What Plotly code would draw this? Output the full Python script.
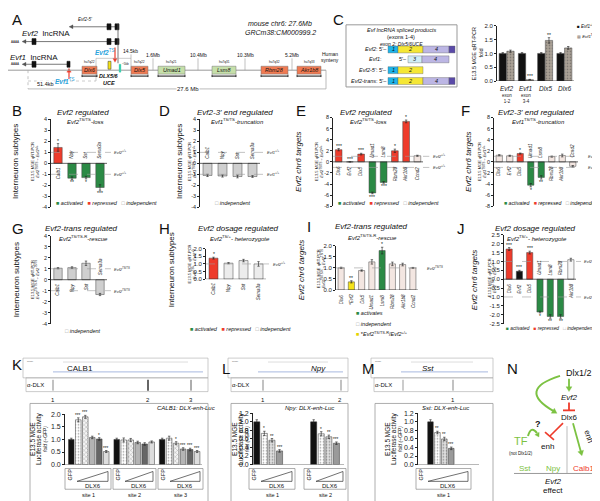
import math
import plotly.graph_objects as go

# ---------------- data ----------------
subtype_genes = ["Calb1", "Npy", "Sst", "Sema3a"]
chr6_genes = ["Dlx6", "Evf2", "Dlx5", "Umad1", "Lsm8", "Rbm28", "Akr1b8", "Ccnd2"]
j_genes = ["Dlx6", "Evf2", "Dlx5", "Umad1", "Lsm8", "Rbm28", "Akr1b8"]

# B: Evf2 TS/TS loss, interneuron subtypes
b_vals = [1.45, -1.35, -1.30, -2.20]
b_err = [0.35, 0.12, 0.12, 0.25]
b_sig = ["*", "**", "*", "***"]
b_cls = ["rep", "act", "act", "act"]
# D: Evf1 TS/TS truncation
d_vals = [-1.10, -1.15, -1.20, -1.20]
d_err = [0.10, 0.10, 0.12, 0.08]
d_sig = ["", "", "", ""]
d_cls = ["ind", "ind", "ind", "ind"]
# E: Evf2 TS/TS loss, chr6 targets
e_vals = [2.2, 0.0, 1.4, -5.6, -3.7, 2.0, 7.3, 1.1]
e_err = [0.2, 0.0, 0.15, 0.15, 0.15, 0.3, 0.25, 0.1]
e_sig = ["***", "***", "***", "***", "***", "*", "*", ""]
e_cls = ["rep", "rep", "rep", "act", "act", "rep", "rep", "ind"]
# F: Evf1 TS/TS truncation, chr6 targets
f_vals = [1.2, 1.1, 1.5, -4.2, -2.8, 0.95, 1.15, -0.8]
f_err = [0.1, 0.1, 0.1, 0.3, 0.3, 0.1, 0.25, 0.15]
f_sig = ["", "", "*", "*", "**", "", "", ""]
f_cls = ["ind", "ind", "rep", "act", "act", "ind", "ind", "ind"]
# G: Evf2 trans rescue, subtypes
g_vals = [1.05, 1.10, 1.50, -1.35]
g_err = [0.05, 0.08, 0.20, 0.10]
g_sig = ["", "", "", ""]
g_cls = ["ind", "ind", "ind", "ind"]
# H: Evf2 TS/+ heterozygote, subtypes
h_vals = [1.38, 1.05, 1.22, 1.00]
h_err = [0.06, 0.04, 0.08, 0.15]
h_sig = ["*", "", "", ""]
h_cls = ["rep", "ind", "ind", "ind"]
# I: Evf2 trans rescue, chr6 targets
i_vals = [1.0, 0.37, 0.88, 1.27, 1.78, 1.18, 1.15, 1.0]
i_err = [0.03, 0.05, 0.03, 0.10, 0.15, 0.08, 0.06, 0.02]
i_sig = ["", "**", "", "", "*", "", "", ""]
i_cls = ["ind", "res", "ind", "ind", "act", "ind", "ind", "ind"]
# J: Evf2 TS/+ heterozygote, chr6 targets
j_vals = [1.7, 0.45, 1.5, -1.85, -2.1, -2.1, 1.1]
j_err = [0.08, 0.05, 0.08, 0.05, 0.10, 0.10, 0.08]
j_sig = ["***", "***", "***", "*", "**", "**", ""]
j_cls = ["rep", "blk", "rep", "act", "act", "act", "ind"]
# C: qRT-PCR of Evf1 TS/TS
c_cats = ["Evf2", "Evf1", "Dlx5", "Dlx6"]
c_sub = ["exon<br>1-2", "exon<br>3-4", "", ""]
c_wt = [1.0, 1.0, 1.0, 1.0]
c_wt_err = [0.03, 0.03, 0.03, 0.03]
c_wt_sig = ["", "", "", ""]
c_ts = [1.08, 0.05, 1.47, 1.20]
c_ts_err = [0.04, 0.01, 0.10, 0.05]
c_ts_sig = ["", "***", "**", ""]
# K / L / M: luciferase assays
k_sites = ["site 1", "site 2", "site 3"]
calb1_site1 = [1.0, 1.78, 1.90, 1.08, 1.02, 0.52]
calb1_site2 = [1.0, 0.98, 0.98, 0.88, 0.82, 0.90]
calb1_site3 = [1.0, 1.05, 0.85, 0.62, 0.60, 0.52]
calb1_sig1 = ["", "***", "***", "", "*", "***"]
calb1_sig2 = ["", "", "", "", "", ""]
calb1_sig3 = ["", "", "*", "***", "***", "***"]
npy_site1 = [1.0, 0.73, 0.57, 0.32]
npy_site2 = [1.0, 0.72, 0.65, 0.50]
npy_sig1 = ["", "*", "**", "***"]
npy_sig2 = ["", "*", "**", "***"]
sst_site1 = [1.0, 0.75, 0.60, 0.38]
sst_sig1 = ["", "**", "**", "***"]

# ---------------- helpers ----------------
W, H = 600, 501
def px(x): return x / W
def py(y): return 1 - y / H

RED = "#ee3b2b"
GREEN = "#2b8a45"
GRAY = "#cfcfcf"
BEIGE = "#f3e6e1"
LGRAY = "#ececec"
YELLOW = "#f5e31a"
BLUE = "#2aa3dc"
SAL = "#f07a52"
LGREEN = "#c5dfa9"

fig = go.Figure()
ann, shp, lay = [], [], {}
n_ax = [0]

def T(x, y, s, size=6, color="#111", xa="center", ya="middle", angle=0, it=False, b=False, bg=None):
    if it: s = "<i>" + s + "</i>"
    if b: s = "<b>" + s + "</b>"
    d = dict(x=px(x), y=py(y), xref="paper", yref="paper", text=s, showarrow=False,
             font=dict(size=size, color=color), xanchor=xa, yanchor=ya, textangle=angle, borderpad=0)
    if bg: d["bgcolor"] = bg
    ann.append(d)

def L(x0, y0, x1, y1, color="#000", w=1, dash=None):
    line = dict(color=color, width=w)
    if dash: line["dash"] = dash
    shp.append(dict(type="line", xref="paper", yref="paper", x0=px(x0), y0=py(y0),
                    x1=px(x1), y1=py(y1), line=line))

def R(x0, y0, x1, y1, fill="rgba(0,0,0,0)", color="#000", w=0.6):
    shp.append(dict(type="rect", xref="paper", yref="paper", x0=px(x0), y0=py(y0),
                    x1=px(x1), y1=py(y1), fillcolor=fill, line=dict(color=color, width=w)))

def PATH(cmds, color="#000", w=1, fill=None):
    parts = []
    for c in cmds:
        s = c[0]
        nums = c[1:]
        for k in range(0, len(nums), 2):
            s += " %.5f,%.5f" % (px(nums[k]), py(nums[k + 1]))
        parts.append(s)
    d = dict(type="path", xref="paper", yref="paper", path=" ".join(parts),
             line=dict(color=color, width=w))
    if fill: d["fillcolor"] = fill
    shp.append(d)

def HEAD(fx, fy, hx, hy, color, size=4.5, half=2.6):
    dx, dy = hx - fx, hy - fy
    n = math.hypot(dx, dy) or 1
    ux, uy = dx / n, dy / n
    bx, by = hx - ux * size, hy - uy * size
    nx, ny = -uy, ux
    PATH([("M", hx, hy), ("L", bx + nx * half, by + ny * half), ("L", bx - nx * half, by - ny * half),
          ("Z",)], color, 0.3, fill=color)

def ARR(x0, y0, x1, y1, color="#000", w=1, size=4.5, half=2.6):
    dx, dy = x1 - x0, y1 - y0
    n = math.hypot(dx, dy) or 1
    L(x0, y0, x1 - dx / n * size * 0.8, y1 - dy / n * size * 0.8, color, w)
    HEAD(x0, y0, x1, y1, color, size, half)

def AX(x0, x1, ytop, ybot, xr, yr, tickvals, ticktext, tfs=5.5):
    n_ax[0] += 1
    n = n_ax[0]
    xk = "xaxis" if n == 1 else "xaxis%d" % n
    yk = "yaxis" if n == 1 else "yaxis%d" % n
    xid = "x" if n == 1 else "x%d" % n
    yid = "y" if n == 1 else "y%d" % n
    lay[xk] = dict(domain=[px(x0), px(x1)], range=xr, visible=False, anchor=yid, fixedrange=True)
    lay[yk] = dict(domain=[py(ybot), py(ytop)], range=yr, anchor=xid, showline=True,
                   linecolor="#222", linewidth=0.7, ticks="outside", ticklen=2, tickwidth=0.6,
                   tickcolor="#222", tickvals=tickvals, ticktext=ticktext,
                   tickfont=dict(size=tfs, color="#222"), showgrid=False, zeroline=False,
                   fixedrange=True)
    return xid, yid

def HL(xid, yid, yv, x0d, x1d, color="#222", w=0.7, dash=None):
    line = dict(color=color, width=w)
    if dash: line["dash"] = dash
    shp.append(dict(type="line", xref=xid + " domain", yref=yid, x0=x0d, x1=x1d,
                    y0=yv, y1=yv, line=line))

def BARS(xid, yid, xs, vals, errs, colors, sigs, width=0.6, lc="#444", patterns=None, sig_size=5):
    marker = dict(color=colors, line=dict(color=lc, width=0.5))
    if patterns:
        marker["pattern"] = dict(shape=patterns, fgcolor="#444", size=3, solidity=0.25)
    fig.add_trace(go.Bar(x=xs, y=vals, width=width, marker=marker, textposition="none",
                         error_y=dict(type="data", array=errs, color="#222", thickness=0.6, width=1.2),
                         xaxis=xid, yaxis=yid, showlegend=False, hoverinfo="skip"))
    for x, v, e, s in zip(xs, vals, errs, sigs):
        if not s:
            continue
        neg = v < 0
        ann.append(dict(x=x, y=v - e if neg else v + e, xref=xid, yref=yid, text=s,
                        showarrow=False, font=dict(size=sig_size, color="#111"),
                        xanchor="center", yanchor="top" if neg else "bottom",
                        yshift=1 if neg else -1, borderpad=0))

def qpcr(x0, x1, ytop, ybot, yr, ticks, ttext, cats, vals, errs, sigs, colors, refs, reflab,
         labs=None, tfs=5.5, labsize=4.5):
    xid, yid = AX(x0, x1, ytop, ybot, [-0.5, len(cats) - 0.5], yr, ticks, ttext, tfs)
    xs = list(range(len(cats)))
    BARS(xid, yid, xs, vals, errs, colors, sigs)
    HL(xid, yid, 0, 0, 1)
    for r in refs:
        HL(xid, yid, r, 0, 1.07, "#9a9a9a", 0.6, "dash")
        ann.append(dict(x=1.09, y=r, xref=xid + " domain", yref=yid, text="<i>" + reflab + "</i>",
                        showarrow=False, font=dict(size=4, color="#333"), xanchor="left",
                        yanchor="middle"))
    for i, c in enumerate(cats):
        lab = labs[i] if labs else c
        neg = vals[i] < 0
        ann.append(dict(x=i, y=0, xref=xid, yref=yid, text="<i>" + lab + "</i>", showarrow=False,
                        textangle=-90, font=dict(size=labsize, color="#222"),
                        xanchor="center", yanchor="bottom" if neg else "top",
                        yshift=2 if neg else -2))
    return xid, yid

def colmap(cls, indep):
    m = {"rep": RED, "act": GREEN, "ind": indep, "res": YELLOW, "blk": "#111"}
    return [m[c] for c in cls]

LEG3 = ('<span style="color:%s">■</span> activated   <span style="color:%s">■</span> repressed   '
        '<span style="color:#999">□</span> independent') % (GREEN, RED)
LEGI = '<span style="color:#999">□</span> independent'

def inner(x, y, s):
    T(x, y, "E13.5 MGE qRT-PCR<br>" + s, 4, angle=-90)

S_TS2 = "<i>Evf2</i><sup>TS/TS</sup> ÷ <i>Evf2</i><sup>+/+</sup>"
S_TS1 = "<i>Evf1</i><sup>TS/TS</sup> ÷ <i>Evf1</i><sup>+/+</sup>"
S_R = "<i>Evf2</i><sup>TS/TS-R</sup> ÷ <i>Evf2</i><sup>TS/TS</sup>"
S_HET = "<i>Evf2</i><sup>TS/+</sup> ÷ <i>Evf2</i><sup>+/+</sup>"

ticks4 = [-4, -3, -2, -1, 0, 1, 2, 3, 4]
ticks8 = [-8, -6, -4, -2, 0, 2, 4, 6, 8]
ticks2 = [0, 0.5, 1.0, 1.5, 2.0]
ticksJ = [-2.5, -2.0, -1.5, -1.0, -0.5, 0, 0.5, 1.0, 1.5, 2.0, 2.5]
ticksL = [0, 0.2, 0.4, 0.6, 0.8, 1.0, 1.2]
fmt1 = lambda v: ["%.1f" % t for t in v]
fmti = lambda v: ["%d" % t for t in v]

# ---------------- Panel A ----------------
T(3, 8, "A", 15, xa="left")
L(65, 15, 110, 15, "#555", 0.8)
HEAD(66, 15, 61, 15, "#555", 4, 2)
R(99, 12, 103, 18, "#111", "#111")
R(107, 12, 111, 18, "#111", "#111")
T(77, 8, "Evf2-5'", 4.5, it=True)
L(18, 30, 110, 30, "#555", 0.8)
HEAD(19, 30, 14, 30, "#555", 4, 2)
T(7, 30, "AAAA", 3)
R(24, 27, 28, 33, "#111", "#111")
R(99, 27, 103, 33, "#111", "#111")
R(107, 27, 111, 33, "#111", "#111")
T(38, 22, "<i>Evf2</i>  lncRNA", 8)
L(18, 53, 60, 53, "#555", 0.8)
HEAD(19, 53, 14, 53, "#555", 4, 2)
T(7, 53, "AAAA", 3)
R(24, 50, 28, 56, "#111", "#111")
R(59, 50, 62, 56, "#111", "#111")
T(26, 46, "<i>Evf1</i>  lncRNA", 8)
L(110, 12, 110, 52, "#555", 0.8)
ARR(107, 36, 107, 51, RED, 1.2, 4, 2.2)
T(97, 41, "<i><b>Evf2</b></i><sup>TS</sup>", 6.5, color=BLUE)
ARR(61, 68, 61, 57, RED, 1.2, 4, 2.2)
T(57, 70, "<i><b>Evf1</b></i><sup>TS</sup>", 6.5, color=BLUE)
L(0, 59, 318, 59, "#999", 1)
L(20, 59, 20, 78, "#aaa", 0.7, "dot")
L(20, 78, 318, 78, "#aaa", 0.8)
L(318, 59, 318, 78, "#aaa", 0.8)
T(180, 78, "27.6 Mb", 6, bg="white")
L(88, 47, 123, 47, "#aaa", 0.6)
L(88, 47, 88, 70, "#aaa", 0.6)
L(20, 70, 88, 70, "#aaa", 0.6, "dot")
T(37, 73, "51.4kb", 5.5, bg="white")
a_genes = [("Dlx6", 74, 89, SAL, "hu7q22"), ("Dlx5", 123, 140, SAL, "hu7q22"),
           ("Umad1", 150, 177, LGREEN, "hu7q21"), ("Lsm8", 204, 228, LGREEN, "hu7q31"),
           ("Rbm28", 253, 280, SAL, "hu7q32"), ("Akr1b8", 289, 313, SAL, "hu7q33")]
for name, x0, x1, col, hu in a_genes:
    R(x0, 55, x1, 63, col, "#777", 0.5)
    T((x0 + x1) / 2, 59, name, 5.5, it=True)
    T((x0 + x1) / 2, 51, hu, 3.2)
    L(x0, 65, x1, 65, "#111", 1.0)
    L(x0, 63.5, x0, 66, "#111", 0.8)
    L(x1, 63.5, x1, 66, "#111", 0.8)
a_dist = [("14.5kb", 123, 40, 43), ("1.6Mb", 145, 44, 47), ("10.4Mb", 190, 44, 47),
          ("10.3Mb", 237, 44, 47), ("5.2Mb", 284, 44, 47)]
for lab, x, ty, ly in a_dist:
    T(x, ty, lab, 5)
    L(x, ly, x, 59, "#999", 0.6)
R(100, 50, 103, 58, YELLOW, "#333", 0.5)
T(101, 65, "<b><i>DLX5/6</i></b>", 5.5)
T(101, 72, "<b><i>UCE</i></b>", 5.5)
R(111, 53, 113, 61, "#3fd0b0", "#3fd0b0", 0.3)
T(117, 53, "~5kb", 3)
T(272, 12, "mouse chr6: 27.6Mb", 7, it=True)
T(272, 21, "GRCm38:CM000999.2", 7, it=True)
T(322, 43, "Human", 5)
T(322, 49, "synteny", 5)

# ---------------- Panel C ----------------
T(330, 8, "C", 15)
R(338, 13, 449, 76, color="#999", w=1)
T(393, 18, "<i>Evf lncRNA spliced products</i>", 5.5)
T(393, 25, "(exons 1-4)", 5.5)
T(393, 32, "<i>exon 2: Dlx5/6UCE</i>", 5)
E1, E2, E3, E4, E5 = "#1eb4ea", "#f5e735", "#d0eef7", "#bcb6e4", "#5a4aa8"
def exon(x0, x1, y, col, lab):
    R(x0, y - 3.5, x1, y + 3.5, col, "#666", 0.4)
    if lab: T((x0 + x1) / 2, y, lab, 5.5, it=True)
for y, lab in [(38, "<i>Evf2</i>: 5'–"), (70, "<i>Evf2-trans</i>: 5'–")]:
    T(380, y, lab, 5.5, xa="right")
    exon(380, 390, y, E1, "1"); exon(390, 415, y, E2, "2"); exon(415, 441, y, E4, "4"); exon(441, 447, y, E5, "")
T(360, 48, "<i>Evf1</i>:", 5.5, xa="left")
T(400, 48, "5'–", 5.5, xa="right")
exon(400, 414, 48, E3, "3"); exon(414, 441, 48, E4, "4")
T(380, 59, "<i>Evf2-5'</i>: 5'–", 5.5, xa="right")
exon(380, 390, 59, E1, "1"); exon(390, 415, 59, E2, "2")

cx, cy = AX(489, 566, 14, 70, [-0.5, 3.5], [0, 2.0], ticks2, fmt1(ticks2), 6)
BARS(cx, cy, [i - 0.2 for i in range(4)], c_wt, c_wt_err, ["#111"] * 4, c_wt_sig, width=0.38)
BARS(cx, cy, [i + 0.2 for i in range(4)], c_ts, c_ts_err, ["#aaa196"] * 4, c_ts_sig, width=0.38,
     patterns=["."] * 4)
HL(cx, cy, 0, 0, 1)
for i, c in enumerate(c_cats):
    ann.append(dict(x=i, y=0, xref=cx, yref=cy, text="<i>" + c + "</i>", showarrow=False,
                    font=dict(size=6.5, color="#222"), yanchor="top", yshift=-2))
    if c_sub[i]:
        ann.append(dict(x=i, y=0, xref=cx, yref=cy, text=c_sub[i], showarrow=False,
                        font=dict(size=4.5, color="#222"), yanchor="top", yshift=-10))
T(466, 42, "E13.5 MGE qRT-PCR", 5.5, angle=-90)
T(473, 42, "fold", 5.5, angle=-90)
T(568, 14, "■ <i>Evf1</i><sup>+/+</sup>", 4.5, xa="left")
T(568, 24, '<span style="color:#8f857d">▩</span> <i>Evf1</i><sup>TS/TS</sup>', 4.3, xa="left")

# ---------------- Panels B, D, E, F ----------------
T(3, 100, "B", 15, xa="left")
T(75, 102, "<i>Evf2 regulated</i>", 8)
T(77, 111, "<i>Evf2</i><sup>TS/TS</sup><i>-loss</i>", 6)
T(8, 152, "Interneuron subtypes", 8, angle=-90)
inner(27, 152, S_TS2)
qpcr(43, 99, 109, 198, [-4, 4], ticks4, fmti(ticks4), subtype_genes, b_vals, b_err, b_sig,
     colmap(b_cls, GRAY), [1, -1], "Evf2<sup>+/+</sup>")
T(98, 194, LEG3, 5.5, it=True)

T(150, 100, "D", 15, xa="left")
T(227, 102, "<i>Evf2-3' end regulated</i>", 8)
T(229, 111, "<i>Evf1</i><sup>TS/TS</sup><i>-truncation</i>", 6)
T(172, 152, "Interneuron subtypes", 8, angle=-90)
inner(184, 152, S_TS1)
qpcr(192, 252, 109, 198, [-4, 4], ticks4, fmti(ticks4), subtype_genes, d_vals, d_err, d_sig,
     colmap(d_cls, GRAY), [1, -1], "Evf1<sup>+/+</sup>")
T(225, 194, LEGI, 5.5, it=True)

T(287, 100, "E", 15, xa="left")
T(358, 102, "<i>Evf2 regulated</i>", 8)
T(360, 111, "<i>Evf2</i><sup>TS/TS</sup><i>-loss</i>", 6)
T(291, 152, "<i>Evf2 chr6 targets</i>", 8, angle=-90)
inner(311, 152, S_TS2)
qpcr(325, 415, 107, 197, [-8, 8], ticks8, fmti(ticks8), chr6_genes, e_vals, e_err, e_sig,
     colmap(e_cls, BEIGE), [1, -1], "Evf2<sup>+/+</sup>")
T(380, 194, LEG3, 5.5, it=True)

T(452, 100, "F", 15, xa="left")
T(528, 102, "<i>Evf2-3' end regulated</i>", 8)
T(530, 111, "<i>Evf1</i><sup>TS/TS</sup><i>-truncation</i>", 6)
T(461, 152, "<i>Evf2 chr6 targets</i>", 8, angle=-90)
inner(474, 152, S_TS1)
qpcr(486, 570, 107, 197, [-8, 8], ticks8, fmti(ticks8), chr6_genes, f_vals, f_err, f_sig,
     colmap(f_cls, BEIGE), [1, -1], "Evf1<sup>+/+</sup>")
T(543, 194, LEG3, 5.2, it=True)

# ---------------- Panels G, H, I, J ----------------
T(3, 220, "G", 15, xa="left")
T(73, 220, "<i>Evf2-trans regulated</i>", 8)
T(75, 229, "<i>Evf2</i><sup>TS/TS-R</sup><i>-rescue</i>", 6)
T(8, 272, "Interneuron subtypes", 8, angle=-90)
inner(27, 272, S_R)
qpcr(43, 99, 227, 316, [-4, 4], ticks4, fmti(ticks4), subtype_genes, g_vals, g_err, g_sig,
     colmap(g_cls, GRAY), [1, -1], "Evf2<sup>TS/TS</sup>")
T(75, 324, LEGI, 5.5, it=True)

T(150, 220, "H", 15, xa="left")
T(230, 220, "<i>Evf2 dosage regulated</i>", 8)
T(232, 229, "<i>Evf2</i><sup>TS/+</sup><i>- heterozygote</i>", 6)
T(163, 262, "Interneuron subtypes", 8, angle=-90)
inner(184, 256, S_HET)
qpcr(198, 258, 240, 271, [0, 2.0], ticks2, fmt1(ticks2), subtype_genes, h_vals, h_err, h_sig,
     colmap(h_cls, LGRAY), [1], "Evf2<sup>+/+</sup>", tfs=6)
T(232, 321, LEG3, 5.5, it=True)

T(298, 218, "I", 15, xa="left")
T(363, 218, "<i>Evf2-trans regulated</i>", 8)
T(365, 228, "<i>Evf2</i><sup>TS/TS-R</sup><i>-rescue</i>", 6)
T(293, 262, "<i>Evf2 chr6 targets</i>", 8, angle=-90)
inner(313, 260, S_R)
i_labs = ["Dlx6", "*Evf2", "Dlx5", "Umad1", "Lsm8", "Rbm28", "Akr1b8", "Ccnd2"]
qpcr(328, 410, 237, 282, [0, 2.0], ticks2, fmt1(ticks2), chr6_genes, i_vals, i_err, i_sig,
     colmap(i_cls, BEIGE), [1], "Evf2<sup>TS/TS</sup>", labs=i_labs, tfs=6)
T(347, 305, '<span style="color:%s">■</span> activates' % GREEN, 5.5, xa="left", it=True)
T(347, 316, '<span style="color:#999">□</span> independent', 5.5, xa="left", it=True)
T(347, 327, '<span style="color:#e5d300">■</span> *<i>Evf2</i><sup>TS/TS-R</sup>/<i>Evf2</i><sup>+/+</sup>',
  5.5, xa="left")

T(448, 220, "J", 15, xa="left")
T(527, 220, "<i>Evf2 dosage regulated</i>", 8)
T(529, 229, "<i>Evf2</i><sup>TS/+</sup><i>- heterozygote</i>", 6)
T(466, 272, "<i>Evf2 chr6 targets</i>", 8, angle=-90)
inner(484, 270, S_HET)
qpcr(496, 568, 226, 316, [-2.5, 2.5], ticksJ, fmt1(ticksJ), j_genes, j_vals, j_err, j_sig,
     colmap(j_cls, "#f7f7f7"), [1, -1], "Evf2<sup>+/+</sup>", tfs=6)
T(542, 321, LEG3, 4.8, it=True)

# ---------------- Panels K, L, M ----------------
LUC_COL6 = ["#111111", "#ffffff", "#f4f4f4", "#b4b4b4", "#666666", "#dddddd"]
LUC_PAT6 = ["", ".", "x", "", "", ""]
LUC_COL4 = ["#111111", "#ffffff", "#dedede", "#9a9a9a"]
LUC_PAT4 = ["", ".", ".", ""]

def track(x0, x1, gene, gx, peaks, nums, top=351, mid=371, bot=385):
    R(x0, top, x1, mid, color="#aaa", w=0.6)
    T(x0 + 3, top + 3, "Scale", 2.5, color="#666", xa="left")
    L(x0 + 40, top + 4, x1 - 20, top + 4, "#bbb", 0.5)
    T(gx, top + 11, gene, 8)
    L(x0 + 30, top + 14, x1 - 5, top + 14, "#5070c0", 0.5)
    R(x0 + 3, mid, x1, bot, color="#aaa", w=0.6)
    T(x0 + 3, (mid + bot) / 2, "α-DLX", 6, xa="left")
    for (p, wdt) in peaks:
        L(p, mid + 2, p, bot - 1, "#333", wdt)
    for (p, lab) in nums:
        T(p, 393, lab, 6)

def sitebox(x0, x1, lab):
    R(x0, 463, x1, 484, color="#777", w=0.6)
    T(x0 + 5, 469, "GFP", 5.5, angle=-90)
    PATH([("M", x0 + 12, 476), ("L", x1 - 3, 476), ("L", x1 - 3, 466), ("Z",)], "#333", 0.7)
    T((x0 + 12 + x1 - 3) / 2, 480.5, "DLX6", 6)
    T((x0 + x1) / 2, 490, lab, 5.5)

def lucytitle(x, yc):
    T(x, yc, "E13.5 MGE", 6.5, angle=-90)
    T(x + 6, yc, "Luciferase activity", 6.5, angle=-90)
    T(x + 12, yc, "fold (÷GFP)", 5, angle=-90, it=True)

# K
T(3, 358, "K", 15, xa="left")
track(15, 200, "CALB1", 72, [(45, 0.6), (140, 1.5), (183, 0.8)], [(45, "1"), (140, "2"), (183, "3")])
R(22, 397, 200, 497, color="#999", w=0.8)
kx, ky = AX(57, 194, 408, 459, [-0.9, 18.7], [0, 2.0], ticks2, fmt1(ticks2), 7)
k_data = [calb1_site1, calb1_site2, calb1_site3]
k_sigs = [calb1_sig1, calb1_sig2, calb1_sig3]
for g in range(3):
    xs = [g * 6.5 + i for i in range(6)]
    BARS(kx, ky, xs, k_data[g], [0.05, 0.08, 0.06, 0.05, 0.05, 0.04], LUC_COL6, k_sigs[g],
         width=0.8, lc="#333", patterns=LUC_PAT6, sig_size=4.5)
HL(kx, ky, 0, 0, 1)
T(178, 402, "<i>CALB1: DLX-enh-Luc</i>", 6)
lucytitle(25, 433)
for (a, b), lab in zip([(57, 103), (105, 148), (150, 195)], k_sites):
    sitebox(a, b, lab)

# L
T(213, 362, "L", 15, xa="left")
track(220, 340, "<i>Npy</i>", 310, [(255, 0.6), (333, 0.6)], [(255, "1"), (332, "2")])
R(223, 397, 340, 497, color="#999", w=0.8)
lx, ly = AX(245, 336, 407, 459, [-0.5, 11.5], [0, 1.2], ticksL, fmt1(ticksL), 7)
for g, (vals, sg) in enumerate([(npy_site1, npy_sig1), (npy_site2, npy_sig2)]):
    xs = [g * 7.5 + i for i in range(4)]
    BARS(lx, ly, xs, vals, [0.05, 0.05, 0.04, 0.03], LUC_COL4, sg, width=0.8, lc="#333",
         patterns=LUC_PAT4, sig_size=4.5)
HL(lx, ly, 0, 0, 1)
T(301, 402, "<i>Npy: DLX-enh-Luc</i>", 6)
lucytitle(227, 433)
sitebox(241, 287, "site 1")
sitebox(296, 338, "site 2")

# M
T(353, 362, "M", 15, xa="left")
track(363, 485, "<i>Sst</i>", 420, [(395, 0.5), (445, 0.6)], [(445, "1")])
R(367, 397, 485, 497, color="#999", w=0.8)
mx, my = AX(410, 471, 407, 459, [-1.8, 7.0], [0, 1.2], ticksL, fmt1(ticksL), 7)
BARS(mx, my, [0, 1, 2, 3], sst_site1, [0.05, 0.03, 0.04, 0.03], LUC_COL4, sst_sig1, width=0.8,
     lc="#333", patterns=LUC_PAT4, sig_size=4.5)
HL(mx, my, 0, 0, 1)
T(437, 402, "<i>Sst: DLX-enh-Luc</i>", 6)
lucytitle(380, 433)
sitebox(408, 463, "site 1")

# ---------------- Panel N ----------------
NG = "#7cc242"
T(498, 362, "N", 15, xa="left")
T(571, 366, "Dlx1/2", 9)
ARR(561, 372, 561, 385, NG, 1.8, 5, 3)
PATH([("M", 552, 369), ("Q", 508, 383, 546, 405)], NG, 2)
HEAD(530, 395, 549, 407, NG, 5, 3)
T(561, 391, "Evf2", 8, it=True)
L(561, 396, 561, 404, RED, 1.8)
L(555, 404, 567, 404, RED, 1.8)
T(561, 411, "Dlx6", 8)
L(555, 417, 542, 430, RED, 1.6)
L(537, 426, 546, 434, RED, 1.6)
ARR(565, 417, 574, 450, NG, 1.8, 5, 3)
T(580, 430, "enh", 8, angle=72)
L(559, 420, 559, 468, "#bbb", 1)
T(530, 418, "?", 9, b=True)
PATH([("M", 520, 430), ("Q", 523, 419, 529, 427)], NG, 2)
HEAD(527, 424, 531, 431, NG, 4, 2.5)
T(513, 435, "TF", 11, color=NG)
T(513, 448, "(not Dlx1/2)", 4.5)
T(539, 441, "enh", 8)
T(517, 463, "Sst", 8, color=NG)
T(545, 463, "Npy", 8, color=NG)
T(575, 463, "Calb1", 8, color=RED)
L(506, 468, 590, 468, "#999", 1)
T(545, 476, "Evf2", 8, it=True)
T(545, 485, "effect", 8)

fig.update_layout(width=W, height=H, margin=dict(l=0, r=0, t=0, b=0),
                  paper_bgcolor="white", plot_bgcolor="white",
                  font=dict(family="Liberation Sans, Arial, sans-serif", color="#111"),
                  annotations=ann, shapes=shp, barmode="overlay", showlegend=False, **lay)
fig.write_html("out.html")
